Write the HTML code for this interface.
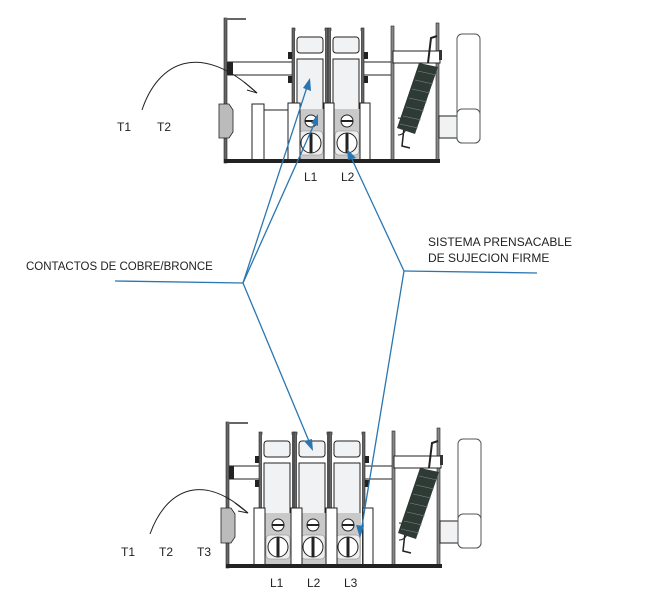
<!DOCTYPE html>
<html><head><meta charset="utf-8"><style>
html,body{margin:0;padding:0;background:#fff;width:647px;height:604px;overflow:hidden}
svg{display:block}
text{font-family:"Liberation Sans",Arial,sans-serif;fill:#222}
</style></head><body>
<svg width="647" height="604" viewBox="0 0 647 604" xmlns="http://www.w3.org/2000/svg">
<defs>
<g id="pole">
  <rect x="0" y="0" width="3" height="134" fill="#666" stroke="#222" stroke-width="0.6"/>
  <rect x="33" y="0" width="3" height="134" fill="#666" stroke="#222" stroke-width="0.6"/>
  <rect x="3" y="3" width="30" height="130" fill="#fff"/>
  <rect x="5" y="9" width="26" height="16" rx="3" fill="#f1f2f4" stroke="#222" stroke-width="1"/>
  <rect x="5" y="31" width="26" height="52" fill="#f1f2f4" stroke="#222" stroke-width="1"/>
  <rect x="6" y="81" width="26" height="51" fill="#c9c9c9"/>
  <circle cx="19" cy="93" r="6" fill="#fff" stroke="#222" stroke-width="1"/>
  <line x1="13" y1="93" x2="25" y2="93" stroke="#222" stroke-width="2"/>
  <rect x="7" y="103" width="24" height="24" rx="4" fill="#eee" stroke="#888" stroke-width="0.6"/>
  <circle cx="19" cy="115" r="10" fill="#fff" stroke="#222" stroke-width="1"/>
  <line x1="19" y1="105" x2="19" y2="125" stroke="#222" stroke-width="3"/>
</g>
<g id="side">
  <rect x="391" y="26" width="3" height="135" fill="#888" stroke="#222" stroke-width="0.6"/>
  <rect x="436" y="23" width="3" height="138" fill="#888" stroke="#222" stroke-width="0.6"/>
  <rect x="393" y="51" width="47" height="12" fill="#fff" stroke="#222" stroke-width="1"/>
  <rect x="439" y="50" width="3" height="10" fill="#333"/>
  <path d="M428 63 L431 38 L437 36" fill="none" stroke="#222" stroke-width="2"/>
  <path d="M404 128 L402 146 L410 148" fill="none" stroke="#222" stroke-width="1.5"/>
  <path d="M398 118 A8 8 0 0 1 398 135" fill="none" stroke="#222" stroke-width="1"/>
  <polygon points="419,63 438,67 415,134 397,128" fill="#2e3a34"/>
  <g stroke="#889" stroke-width="0.6">
    <line x1="418" y1="71" x2="436" y2="75"/><line x1="415" y1="80" x2="433" y2="84"/>
    <line x1="412" y1="89" x2="430" y2="93"/><line x1="409" y1="98" x2="427" y2="102"/>
    <line x1="406" y1="107" x2="424" y2="111"/><line x1="403" y1="116" x2="421" y2="120"/>
    <line x1="400" y1="124" x2="418" y2="128"/>
  </g>
  <rect x="439" y="116" width="19" height="22" fill="#f1f2f4" stroke="#222" stroke-width="1"/>
  <rect x="457" y="34" width="23" height="109" rx="5" fill="#fff" stroke="#555" stroke-width="1"/>
  <rect x="457" y="109" width="23" height="34" rx="5" fill="#fff" stroke="#555" stroke-width="1"/>
</g>
</defs>

<g>
  <rect x="228" y="62" width="165" height="13" fill="#fff" stroke="#222" stroke-width="1"/>
  <rect x="226" y="62" width="7" height="13" fill="#222"/>
  <rect x="252" y="104" width="12" height="58" fill="#fff" stroke="#222" stroke-width="1"/>
  <rect x="264" y="110" width="24" height="52" fill="#fff" stroke="#222" stroke-width="1"/>
  <use href="#pole" x="292" y="28"/>
  <use href="#pole" x="328" y="28"/>
  <rect x="288" y="52" width="4" height="7" fill="#222"/><rect x="288" y="76" width="4" height="7" fill="#222"/>
  <rect x="364" y="52" width="4" height="7" fill="#222"/><rect x="364" y="76" width="4" height="7" fill="#222"/>
  <rect x="288" y="103" width="12" height="58" fill="#fff" stroke="#222" stroke-width="1"/>
  <rect x="324" y="103" width="10" height="58" fill="#fff" stroke="#222" stroke-width="1"/>
  <rect x="360" y="103" width="10" height="58" fill="#fff" stroke="#222" stroke-width="1"/>
  <use href="#side"/>
  <rect x="224" y="18" width="3" height="145" fill="#666" stroke="#222" stroke-width="0.6"/>
  <line x1="225" y1="19" x2="246" y2="19" stroke="#666" stroke-width="2"/>
  <polygon points="219,104 229,104 233,110 233,132 229,138 219,138" fill="#bbb" stroke="#222" stroke-width="0.8"/>
  <rect x="224" y="159" width="216" height="4" fill="#222"/>
  <path d="M142 110 C158 62 200 40 257 93" fill="none" stroke="#222" stroke-width="1"/>
  <path d="M244 82 L257 93 L247 90" fill="none" stroke="#222" stroke-width="1"/>
  <text x="117" y="131" font-size="12">T1</text>
  <text x="157" y="131" font-size="12">T2</text>
  <text x="304" y="181" font-size="12">L1</text>
  <text x="341" y="181" font-size="12">L2</text>
</g>

<g>
  <rect x="229" y="466" width="165" height="13" fill="#fff" stroke="#222" stroke-width="1"/>
  <rect x="227" y="466" width="7" height="13" fill="#222"/>
  <use href="#pole" x="259" y="432"/>
  <use href="#pole" x="294" y="432"/>
  <use href="#pole" x="329" y="432"/>
  <rect x="255" y="456" width="4" height="7" fill="#222"/><rect x="255" y="480" width="4" height="7" fill="#222"/>
  <rect x="365" y="456" width="4" height="7" fill="#222"/><rect x="365" y="480" width="4" height="7" fill="#222"/>
  <rect x="254" y="508" width="11" height="59" fill="#fff" stroke="#222" stroke-width="1"/>
  <rect x="291" y="508" width="11" height="59" fill="#fff" stroke="#222" stroke-width="1"/>
  <rect x="326" y="508" width="11" height="59" fill="#fff" stroke="#222" stroke-width="1"/>
  <rect x="363" y="508" width="10" height="59" fill="#fff" stroke="#222" stroke-width="1"/>
  <use href="#side" x="1" y="405"/>
  <rect x="226" y="422" width="3" height="146" fill="#666" stroke="#222" stroke-width="0.6"/>
  <line x1="227" y1="423" x2="248" y2="423" stroke="#666" stroke-width="2"/>
  <polygon points="221,508 231,508 235,514 235,537 231,543 221,543" fill="#bbb" stroke="#222" stroke-width="0.8"/>
  <rect x="226" y="564" width="216" height="4" fill="#222"/>
  <path d="M150 534 C165 492 200 470 248 513" fill="none" stroke="#222" stroke-width="1"/>
  <path d="M235 503 L248 513 L238 511" fill="none" stroke="#222" stroke-width="1"/>
  <text x="121" y="556" font-size="12">T1</text>
  <text x="159" y="556" font-size="12">T2</text>
  <text x="197" y="556" font-size="12">T3</text>
  <text x="270" y="587" font-size="12">L1</text>
  <text x="307" y="587" font-size="12">L2</text>
  <text x="344" y="587" font-size="12">L3</text>
</g>

<g stroke="#2a76b0" stroke-width="1.3" fill="none">
  <line x1="115" y1="281" x2="243" y2="283"/>
  <line x1="243" y1="283" x2="308" y2="84"/>
  <line x1="243" y1="283" x2="316" y2="120"/>
  <line x1="243" y1="283" x2="311" y2="446"/>
  <line x1="404" y1="271" x2="537" y2="273"/>
  <line x1="404" y1="271" x2="350" y2="155"/>
  <line x1="404" y1="271" x2="361" y2="532"/>
</g>
<g fill="#2a76b0">
  <polygon points="310,78 311,91 303,88"/>
  <polygon points="318,114 318,126 311,123"/>
  <polygon points="347,149 356,158 348,160"/>
  <polygon points="313,451 304,441 312,439"/>
  <polygon points="360,538 356,525 364,526"/>
</g>

<text x="26" y="270" font-size="11.5">CONTACTOS DE COBRE/BRONCE</text>
<text x="428" y="246" font-size="12">SISTEMA PRENSACABLE</text>
<text x="428" y="262" font-size="12">DE SUJECION FIRME</text>
</svg>
</body></html>
